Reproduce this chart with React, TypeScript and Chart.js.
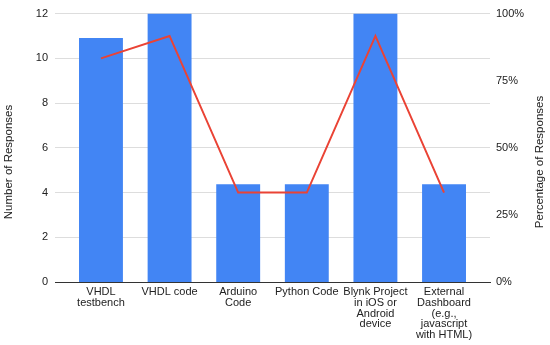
import React, { useEffect, useRef } from "react";
import { Chart, registerables } from "chart.js";

Chart.register(...registerables);

const categories: string[][] = [
  ["VHDL", "testbench"],
  ["VHDL code"],
  ["Arduino", "Code"],
  ["Python Code"],
  ["Blynk Project", "in iOS or", "Android", "device"],
  ["External", "Dashboard", "(e.g.,", "javascript", "with HTML)"],
];
const percentValues = [90.9, 100, 36.4, 36.4, 100, 36.4];
const countValues = [10, 11, 4, 4, 11, 4];
const leftTicks = [0, 2, 4, 6, 8, 10, 12];
const rightTicks = [0, 25, 50, 75, 100];
const leftTitle = "Number of Responses";
const rightTitle = "Percentage of Responses";

const FONT = "'Liberation Sans', Arial, sans-serif";

export default function App() {
  const ref = useRef<HTMLCanvasElement | null>(null);
  useEffect(() => {
    document.body.style.margin = "0";
    const ctx = ref.current!;
    const titlePlugin = {
      id: "axisTitles",
      afterDraw(chart: any) {
        const c = chart.ctx;
        c.save();
        c.fillStyle = "#222";
        c.font = `11.5px ${FONT}`;
        c.textAlign = "center";
        c.textBaseline = "middle";
        c.save();
        c.translate(9, 162);
        c.rotate(-Math.PI / 2);
        c.fillText(leftTitle, 0, 0);
        c.restore();
        c.save();
        c.translate(540, 162);
        c.rotate(-Math.PI / 2);
        c.fillText(rightTitle, 0, 0);
        c.restore();
        c.restore();
      },
    };
    const chart = new Chart(ctx, {
      type: "bar",
      data: {
        datasets: [
          {
            type: "line",
            data: countValues.map((v, i) => ({ x: i, y: v })),
            borderColor: "#ea4335",
            borderWidth: 2,
            pointRadius: 0,
            yAxisID: "y",
            order: 0,
          } as any,
          {
            type: "bar",
            data: percentValues.map((v, i) => ({ x: i, y: v })),
            backgroundColor: "#4285f4",
            borderWidth: 0,
            barPercentage: 0.64,
            categoryPercentage: 1,
            yAxisID: "y1",
            order: 1,
          } as any,
        ],
      },
      options: {
        animation: false,
        responsive: false,
        maintainAspectRatio: false,
        layout: { padding: { top: 10, left: 0, right: 0, bottom: 0 } },
        plugins: { legend: { display: false }, tooltip: { enabled: false } },
        scales: {
          x: {
            type: "linear",
            offset: false,
            min: -0.67,
            max: 5.67,
            afterBuildTicks: (s: any) => {
              s.ticks = categories.map((_, i) => ({ value: i }));
            },
            afterFit: (s: any) => {
              s.height = 63;
            },
            grid: { display: false, drawTicks: false },
            border: { display: true, color: "#333", width: 1 },
            ticks: {
              autoSkip: false,
              maxRotation: 0,
              padding: 5,
              color: "#222",
              font: { family: FONT, size: 11, lineHeight: 0.97 },
              callback: (v: any) => categories[v] ?? "",
            },
          },
          y: {
            position: "left",
            min: 0,
            max: 12,
            afterBuildTicks: (s: any) => {
              s.ticks = leftTicks.map((v) => ({ value: v }));
            },
            afterFit: (s: any) => {
              s.width = 55;
            },
            grid: { color: "#dddddd", drawTicks: false },
            border: { display: false },
            ticks: {
              padding: 7,
              color: "#222",
              font: { family: FONT, size: 11 },
            },
          },
          y1: {
            position: "right",
            min: 0,
            max: 100,
            afterBuildTicks: (s: any) => {
              s.ticks = rightTicks.map((v) => ({ value: v }));
            },
            afterFit: (s: any) => {
              s.width = 60;
            },
            grid: { display: false, drawTicks: false },
            border: { display: false },
            ticks: {
              padding: 6,
              color: "#222",
              font: { family: FONT, size: 11 },
              callback: (v: any) => v + "%",
            },
          },
        },
      },
      plugins: [titlePlugin],
    } as any);
    return () => chart.destroy();
  }, []);
  return (
    <div style={{ width: 550, height: 345, position: "relative" }}>
      <canvas ref={ref} width={550} height={345} style={{ width: 550, height: 345 }} />
    </div>
  );
}
